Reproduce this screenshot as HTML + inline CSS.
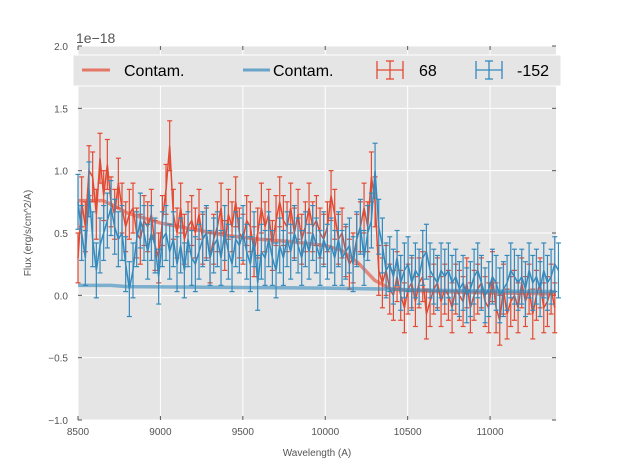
<!DOCTYPE html>
<html><head><meta charset="utf-8"><style>
body{margin:0;background:#fff;font-family:"Liberation Sans",sans-serif}
svg text{font-family:"Liberation Sans",sans-serif}
</style></head><body>
<svg id="chart" width="617" height="467" xmlns="http://www.w3.org/2000/svg">
<rect x="0" y="0" width="617" height="467" fill="#fff"/>
<rect x="78" y="46" width="478" height="374" fill="#e5e5e5"/>
<g id="grid"></g><g id="ticks"></g><g id="series"></g>
<text x="76" y="43" font-size="14" fill="#555">1e−18</text>
<text x="317" y="456" font-size="10" fill="#555" text-anchor="middle">Wavelength (A)</text>
<text x="31" y="233" font-size="10" fill="#555" text-anchor="middle" transform="rotate(-90 31 233)">Flux (erg/s/cm^2/A)</text>
<g>
<rect x="73" y="55" width="488" height="31" fill="#e5e5e5" stroke="#fff" stroke-width="1"/>
<line x1="82" y1="70" x2="110" y2="70" stroke="#e24a33" stroke-opacity="0.7" stroke-width="3"/>
<text x="124" y="76" font-size="16">Contam.</text>
<line x1="243" y1="70" x2="270" y2="70" stroke="#348abd" stroke-opacity="0.7" stroke-width="3"/>
<text x="273" y="76" font-size="16">Contam.</text>
<g stroke="#e24a33" stroke-width="1.3"><line x1="377" y1="70" x2="403" y2="70"/><line x1="377" y1="61" x2="377" y2="79"/><line x1="403" y1="61" x2="403" y2="79"/><line x1="390" y1="61" x2="390" y2="79"/><line x1="386" y1="61" x2="394" y2="61"/><line x1="386" y1="79" x2="394" y2="79"/></g>
<text x="419" y="76" font-size="16">68</text>
<g stroke="#348abd" stroke-width="1.3"><line x1="476" y1="70" x2="502" y2="70"/><line x1="476" y1="61" x2="476" y2="79"/><line x1="502" y1="61" x2="502" y2="79"/><line x1="489" y1="61" x2="489" y2="79"/><line x1="485" y1="61" x2="493" y2="61"/><line x1="485" y1="79" x2="493" y2="79"/></g>
<text x="517" y="76" font-size="16">-152</text>
</g>
</svg>
<script>
const xTicks=[8500,9000,9500,10000,10500,11000];
const yTicks=[-1.0,-0.5,0.0,0.5,1.0,1.5,2.0];
const wlStart=8500, wlStep=22.25;
const red68=[0.3,0.75,0.55,1.0,0.95,0.65,1.1,0.8,1.05,0.75,0.65,0.9,0.7,0.55,0.65,0.7,0.5,0.45,0.6,0.55,0.65,0.4,0.3,0.6,0.85,1.2,0.65,0.5,0.7,0.45,0.55,0.6,0.5,0.65,0.45,0.5,0.3,0.45,0.55,0.7,0.4,0.65,0.55,0.75,0.5,0.45,0.6,0.55,0.35,0.5,0.7,0.55,0.65,0.4,0.6,0.75,0.6,0.55,0.7,0.5,0.65,0.45,0.55,0.7,0.55,0.6,0.5,0.45,0.55,0.8,0.65,0.45,0.5,0.35,0.25,0.3,0.45,0.55,0.7,0.55,0.95,0.75,0.2,0.1,0.2,0.05,0.0,0.15,0.0,-0.1,0.05,0.1,-0.05,0.1,0.15,-0.15,-0.05,0.05,0.1,-0.05,0.05,0.0,-0.1,0.05,0.0,-0.05,0.1,-0.1,0.0,0.05,0.1,-0.05,-0.1,0.15,-0.1,-0.2,0.05,-0.15,-0.05,0.0,-0.1,0.1,-0.05,0.05,-0.15,0.0,0.1,-0.1,-0.05,0.05,-0.1];
const blue152=[0.75,0.5,0.3,0.85,0.45,0.2,0.4,0.5,0.6,0.7,0.55,0.45,0.5,0.25,0.05,0.2,0.45,0.6,0.5,0.35,0.5,0.4,0.15,0.45,0.5,0.35,0.45,0.25,0.4,0.2,0.45,0.3,0.25,0.35,0.45,0.5,0.3,0.4,0.45,0.3,0.5,0.35,0.25,0.45,0.4,0.5,0.35,0.25,0.45,0.1,0.35,0.3,0.45,0.3,0.2,0.4,0.3,0.45,0.35,0.5,0.4,0.3,0.45,0.35,0.5,0.4,0.3,0.45,0.35,0.4,0.3,0.45,0.3,0.35,0.4,0.25,0.45,0.55,0.3,0.5,0.6,1.0,0.55,0.4,0.2,0.25,0.15,0.3,0.1,0.2,0.25,0.1,0.2,0.15,0.3,0.35,0.2,0.15,0.1,0.2,0.15,0.2,0.1,0.15,0.05,0.1,0.0,0.05,0.15,0.2,0.1,0.0,0.05,0.15,0.1,0.0,0.05,0.1,0.2,0.15,0.1,0.15,0.05,0.2,0.1,0.15,0.05,0.2,0.1,0.15,0.25,0.2];
const redErr=0.2, blueErr=0.22;
const contamWl=[8500,8600,8650,8700,8800,9000,9200,9400,9600,9800,10000,10100,10200,10300,10400,10500,10700,11000,11400];
const contamRed=[0.76,0.76,0.76,0.73,0.66,0.58,0.53,0.48,0.45,0.43,0.40,0.36,0.26,0.12,0.05,0.04,0.03,0.02,0.01];
const contamBlue=[0.08,0.08,0.08,0.08,0.07,0.068,0.066,0.064,0.062,0.06,0.058,0.056,0.054,0.052,0.05,0.045,0.04,0.035,0.03];
const X0=78,X1=556,Y0=420,Y1=46;
const xs=v=>X0+(v-8500)/(11400-8500)*(X1-X0);
const ys=v=>Y0-(v+1)/3*(Y0-Y1);
const NS="http://www.w3.org/2000/svg";
function mk(p,t,a){const e=document.createElementNS(NS,t);for(const k in a)e.setAttribute(k,a[k]);p.appendChild(e);return e;}
const grid=document.getElementById('grid'),ticks=document.getElementById('ticks'),ser=document.getElementById('series');
xTicks.forEach(t=>{const x=xs(t);
 const g=mk(grid,'line',{x1:x,y1:Y1,x2:x,y2:Y0,stroke:'#fff','stroke-width':1});
 
 
 mk(ticks,'line',{x1:x,y1:Y0,x2:x,y2:Y0-4,stroke:'#555'});
 mk(ticks,'line',{x1:x,y1:Y1,x2:x,y2:Y1+4,stroke:'#555'});
 const l=mk(ticks,'text',{x:x,y:Y0+15,'font-size':10,fill:'#555','text-anchor':'middle'});l.textContent=t;
 
 });
yTicks.forEach(t=>{const y=ys(t);
 const g=mk(grid,'line',{x1:X0,y1:y,x2:X1,y2:y,stroke:'#fff','stroke-width':1});
 
 
 mk(ticks,'line',{x1:X0,y1:y,x2:X0+4,y2:y,stroke:'#555'});
 mk(ticks,'line',{x1:X1,y1:y,x2:X1-4,y2:y,stroke:'#555'});
 const l=mk(ticks,'text',{x:X0-10,y:y+4,'font-size':10,fill:'#555','text-anchor':'end'});l.textContent=(t<0?'−':'')+Math.abs(t).toFixed(1);
 
 });
function contam(vals,col,name){const p=mk(ser,'polyline',{points:contamWl.map((w,i)=>xs(w)+','+ys(vals[i])).join(' '),fill:'none',stroke:col,'stroke-opacity':0.6,'stroke-width':3.5});
 
 }
function errs(vals,err,col,name){const g=mk(ser,'g',{stroke:col,'stroke-width':1.2,fill:'none'});
 
 
 vals.forEach((v,i)=>{const x=xs(wlStart+i*wlStep);
  mk(g,'line',{x1:x,y1:ys(v-err),x2:x,y2:ys(v+err)});
  mk(g,'line',{x1:x-2.5,y1:ys(v-err),x2:x+2.5,y2:ys(v-err)});
  mk(g,'line',{x1:x-2.5,y1:ys(v+err),x2:x+2.5,y2:ys(v+err)});});
 mk(g,'polyline',{points:vals.map((v,i)=>xs(wlStart+i*wlStep)+','+ys(v)).join(' '),'stroke-width':1.5});}
contam(contamRed,'#e24a33','contam-red-line');
errs(red68,redErr,'#e24a33','series-68');
errs(blue152,blueErr,'#348abd','series-152');
contam(contamBlue,'#348abd','contam-blue-line');
</script>
</body></html>
